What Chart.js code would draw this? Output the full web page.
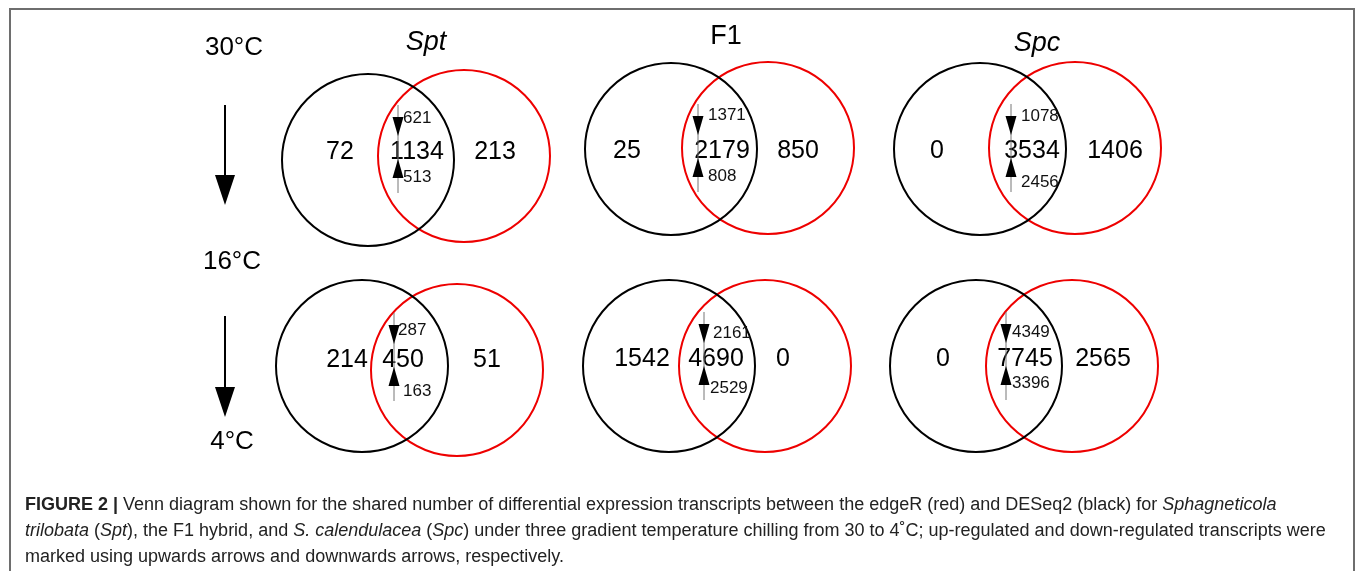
<!DOCTYPE html>
<html>
<head>
<meta charset="utf-8">
<script src="https://cdn.jsdelivr.net/npm/chart.js@4"></script>
<style>
  body { margin: 0; background: #fff; }
  #wrap { position: relative; width: 1355px; height: 571px; overflow: hidden; }
  #frame { position: absolute; left: 9px; top: 8px; width: 1342px; height: 620px; border: 2px solid #6e6e6e; }
  #venn { position: absolute; left: 0; top: 0; }
  #caption {
    position: absolute; left: 25px; top: 491px; white-space: nowrap;
    font-family: 'Liberation Sans', Arial, sans-serif; font-size: 18px; line-height: 26px; color: #222;
  }
</style>
</head>
<body>
<div id="wrap">
  <div id="frame"></div>
  <canvas id="venn" width="1355" height="571"></canvas>
  <div id="caption">
    <b>FIGURE 2 |</b> Venn diagram shown for the shared number of differential expression transcripts between the edgeR (red) and DESeq2 (black) for <i>Sphagneticola</i><br>
    <i>trilobata</i> (<i>Spt</i>), the F1 hybrid, and <i>S. calendulacea</i> (<i>Spc</i>) under three gradient temperature chilling from 30 to 4˚C; up-regulated and down-regulated transcripts were<br>
    marked using upwards arrows and downwards arrows, respectively.
  </div>
</div>
<script>
// data, row by row: 30->16 °C then 16->4 °C, panels Spt, F1, Spc
const panelNames = ['Spt', 'F1', 'Spc'];
const tempLabels = ['30°C', '16°C', '4°C'];
const deseqOnly = [72, 25, 0, 214, 1542, 0];        // black circle only
const shared = [1134, 2179, 3534, 450, 4690, 7745];  // overlap
const edgerOnly = [213, 850, 1406, 51, 0, 2565];     // red circle only
const downReg = [621, 1371, 1078, 287, 2161, 4349];
const upReg = [513, 808, 2456, 163, 2529, 3396];

// where each venn sits on the page (pixel units of the hidden scales)
const layout = [
  { bx: 368, by: 160, rx: 464, ry: 156, ny: 152, nx: [340, 417, 495], ax: 398, dl: [403, 118], ul: [403, 177], title: [426, 42] },
  { bx: 671, by: 149, rx: 768, ry: 148, ny: 151, nx: [627, 722, 798], ax: 698, dl: [708, 115], ul: [708, 176], title: [726, 37] },
  { bx: 980, by: 149, rx: 1075, ry: 148, ny: 151, nx: [937, 1032, 1115], ax: 1011, dl: [1021, 116], ul: [1021, 182], title: [1037, 43] },
  { bx: 362, by: 366, rx: 457, ry: 370, ny: 360, nx: [347, 403, 487], ax: 394, dl: [398, 330], ul: [403, 391] },
  { bx: 669, by: 366, rx: 765, ry: 366, ny: 359, nx: [642, 716, 783], ax: 704, dl: [713, 333], ul: [710, 388] },
  { bx: 976, by: 366, rx: 1072, ry: 366, ny: 359, nx: [943, 1025, 1103], ax: 1006, dl: [1012, 332], ul: [1012, 383] }
];
const circleR = 86;
const tempPos = [[234, 48], [232, 262], [232, 442]];
const bigArrows = [[225, 105, 205], [225, 316, 417]];

const FONT = "'Liberation Sans', Arial, sans-serif";

function tri(ctx, x, yBase, yTip, half) {
  ctx.beginPath();
  ctx.moveTo(x - half, yBase);
  ctx.lineTo(x + half, yBase);
  ctx.lineTo(x, yTip);
  ctx.closePath();
  ctx.fill();
}

const vennText = {
  id: 'vennText',
  afterDatasetsDraw(chart) {
    const ctx = chart.ctx;
    const X = v => chart.scales.x.getPixelForValue(v);
    const Y = v => chart.scales.y.getPixelForValue(v);
    ctx.save();
    ctx.fillStyle = '#000';
    ctx.strokeStyle = '#000';
    ctx.textBaseline = 'middle';

    // temperature labels + big arrows
    ctx.textAlign = 'center';
    ctx.font = '26px ' + FONT;
    tempLabels.forEach((t, i) => ctx.fillText(t, X(tempPos[i][0]), Y(tempPos[i][1])));
    ctx.lineWidth = 2;
    bigArrows.forEach(a => {
      ctx.beginPath();
      ctx.moveTo(X(a[0]), Y(a[1]));
      ctx.lineTo(X(a[0]), Y(a[2] - 26));
      ctx.stroke();
      tri(ctx, X(a[0]), Y(a[2] - 30), Y(a[2]), 10);
    });

    // panel titles
    layout.slice(0, 3).forEach((p, i) => {
      ctx.font = (i === 1 ? '' : 'italic ') + '27px ' + FONT;
      ctx.fillText(panelNames[i], X(p.title[0]), Y(p.title[1]));
    });

    layout.forEach((p, i) => {
      // region counts
      ctx.textAlign = 'center';
      ctx.font = '25px ' + FONT;
      ctx.fillStyle = '#000';
      ctx.fillText(String(deseqOnly[i]), X(p.nx[0]), Y(p.ny));
      ctx.fillText(String(shared[i]), X(p.nx[1]), Y(p.ny));
      ctx.fillText(String(edgerOnly[i]), X(p.nx[2]), Y(p.ny));

      // small up / down arrows
      ctx.strokeStyle = '#777';
      ctx.lineWidth = 1;
      ctx.beginPath();
      ctx.moveTo(X(p.ax), Y(p.ny - 47));
      ctx.lineTo(X(p.ax), Y(p.ny + 41));
      ctx.stroke();
      ctx.fillStyle = '#000';
      tri(ctx, X(p.ax), Y(p.ny - 35), Y(p.ny - 16), 5.5);
      tri(ctx, X(p.ax), Y(p.ny + 26), Y(p.ny + 7), 5.5);

      ctx.textAlign = 'left';
      ctx.font = '17px ' + FONT;
      ctx.fillStyle = '#111';
      ctx.fillText(String(downReg[i]), X(p.dl[0]), Y(p.dl[1]));
      ctx.fillText(String(upReg[i]), X(p.ul[0]), Y(p.ul[1]));
    });
    ctx.restore();
  }
};

new Chart(document.getElementById('venn'), {
  type: 'bubble',
  data: {
    datasets: [
      {
        label: 'DESeq2',
        data: layout.map(p => ({ x: p.bx, y: p.by, r: circleR })),
        backgroundColor: 'rgba(0,0,0,0)',
        borderColor: '#000',
        borderWidth: 2
      },
      {
        label: 'edgeR',
        data: layout.map(p => ({ x: p.rx, y: p.ry, r: circleR })),
        backgroundColor: 'rgba(0,0,0,0)',
        borderColor: '#ee0000',
        borderWidth: 2
      }
    ]
  },
  options: {
    responsive: false,
    animation: false,
    events: [],
    layout: { padding: 0, autoPadding: false },
    plugins: { legend: { display: false }, tooltip: { enabled: false } },
    scales: {
      x: { type: 'linear', min: 0, max: 1355, display: false },
      y: { type: 'linear', min: 0, max: 571, reverse: true, display: false }
    }
  },
  plugins: [vennText]
});
</script>
</body>
</html>
